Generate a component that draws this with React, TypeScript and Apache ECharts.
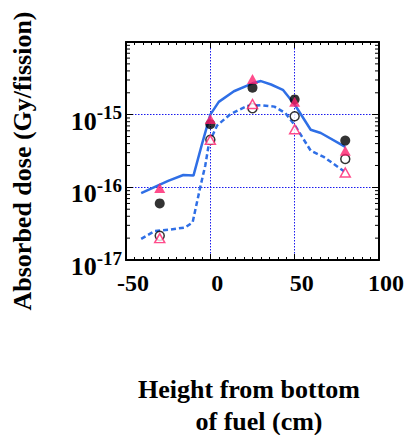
import React, { useEffect, useRef } from "react";
import * as echarts from "echarts";

const solidX = [-41, -25, -16, -10, -5, 0, 5, 14, 25, 30, 36, 43, 50, 59.5, 65.5, 80];
const solidY = [8.3e-17, 1.23e-16, 1.48e-16, 1.45e-16, 3.9e-16, 1.0e-15, 1.5e-15, 2.1e-15, 2.7e-15, 2.9e-15, 2.6e-15, 2.2e-15, 1.38e-15, 6.2e-16, 5.6e-16, 3.6e-16];

const dashX = [-41, -33, -25, -15, -10.5, -6, -3, -1, 1, 4, 12, 22, 30, 38, 44.5, 50, 59.5, 67.5, 80];
const dashY = [1.95e-17, 2.5e-17, 2.6e-17, 2.8e-17, 3.3e-17, 1.0e-16, 2.0e-16, 3.8e-16, 5.0e-16, 7.1e-16, 1.02e-15, 1.32e-15, 1.35e-15, 1.29e-15, 1.05e-15, 7.2e-16, 3.2e-16, 2.6e-16, 1.62e-16];

const markerX = [-30, 0, 25, 50, 80];
const filledTriangle = [9.8e-17, 8.7e-16, 3.1e-15, 1.5e-15, 3.2e-16];
const filledCircle = [6.0e-17, 7.4e-16, 2.35e-15, 1.62e-15, 4.4e-16];
const openCircle = [2.15e-17, 4.5e-16, 1.23e-15, 9.5e-16, 2.45e-16];
const openTriangle = [2.0e-17, 4.5e-16, 1.4e-15, 6.3e-16, 1.6e-16];

const xMin = -50;
const xMax = 100;
const xInterval = 50;
const yMin = 1e-17;
const yMax = 1e-14;
const decades = [-17, -16, -15];
const minorMultipliers = [2, 3, 4, 5, 6, 7, 8, 9];

const yTitle = "Absorbed dose (Gy/fission)";
const xTitle1 = "Height from bottom";
const xTitle2 = "of fuel (cm)";

const FONT = "'Liberation Serif', 'Times New Roman', serif";
const BLUE = "#2f6fe6";
const PINK = "#ff1f6e";
const GRID = "#1a1aee";

const zip = (xs: number[], ys: number[]) => xs.map((x, i) => [x, ys[i]]);

export default function App() {
  const ref = useRef<HTMLDivElement>(null);
  useEffect(() => {
    if (!ref.current) return;
    const chart = echarts.init(ref.current, undefined, { renderer: "svg" });
    const minorTicks: number[][] = [];
    decades.forEach((d) => minorMultipliers.forEach((m) => minorTicks.push([xMin, m * Math.pow(10, d)])));

    const axisLine = { show: true, onZero: false, lineStyle: { color: "#000", width: 2 } };
    const splitLine = { show: true, lineStyle: { color: GRID, width: 1, type: [1.5, 1.5] as any } };

    chart.setOption({
      animation: false,
      grid: { left: 126, right: 33, top: 42, bottom: 175, containLabel: false },
      xAxis: [
        {
          type: "value",
          min: xMin,
          max: xMax,
          interval: xInterval,
          position: "bottom",
          axisLine,
          axisTick: { show: true, inside: true, length: 6, lineStyle: { color: "#000", width: 1 } },
          minorTick: { show: true, splitNumber: 10, length: 3, lineStyle: { color: "#000", width: 1 } },
          splitLine,
          axisLabel: {
            show: true,
            margin: 11,
            color: "#000",
            fontFamily: FONT,
            fontWeight: "bold",
            fontSize: 24,
            padding: [0, 0, 0, 14],
          },
        },
        {
          type: "value",
          min: xMin,
          max: xMax,
          interval: xInterval,
          position: "top",
          axisLine,
          axisTick: { show: true, inside: true, length: 6, lineStyle: { color: "#000", width: 1 } },
          minorTick: { show: true, splitNumber: 10, length: 3, lineStyle: { color: "#000", width: 1 } },
          splitLine: { show: false },
          axisLabel: { show: false },
        },
      ],
      yAxis: [
        {
          type: "log",
          logBase: 10,
          min: yMin,
          max: yMax,
          position: "left",
          axisLine,
          axisTick: { show: true, inside: true, length: 7, lineStyle: { color: "#000", width: 1 } },
          splitLine,
          axisLabel: {
            show: true,
            margin: 4,
            color: "#000",
            padding: [8, 0, 0, 0],
            formatter: (v: number) => {
              const e = Math.round(Math.log10(v));
              if (e === -14) return "";
              return `{b|10}{s|${e}}`;
            },
            rich: {
              b: { fontFamily: FONT, fontWeight: "bold", fontSize: 26, color: "#000", lineHeight: 31, verticalAlign: "bottom" },
              s: { fontFamily: FONT, fontWeight: "bold", fontSize: 19, color: "#000", lineHeight: 19, verticalAlign: "top" },
            },
          },
        },
        {
          type: "log",
          logBase: 10,
          min: yMin,
          max: yMax,
          position: "right",
          axisLine,
          axisTick: { show: true, inside: true, length: 7, lineStyle: { color: "#000", width: 1 } },
          splitLine: { show: false },
          axisLabel: { show: false },
        },
      ],
      graphic: [
        {
          type: "text",
          x: 22,
          y: 161,
          rotation: Math.PI / 2,
          style: { text: yTitle, font: `bold 26px ${FONT}`, fill: "#000", textAlign: "center", textVerticalAlign: "middle" },
        },
        {
          type: "text",
          x: 249,
          y: 389,
          style: { text: xTitle1, font: `bold 26px ${FONT}`, fill: "#000", textAlign: "center", textVerticalAlign: "middle" },
        },
        {
          type: "text",
          x: 259,
          y: 421,
          style: { text: xTitle2, font: `bold 26px ${FONT}`, fill: "#000", textAlign: "center", textVerticalAlign: "middle" },
        },
      ],
      series: [
        {
          type: "custom",
          name: "minorTicks",
          xAxisIndex: 0,
          yAxisIndex: 0,
          silent: true,
          clip: false,
          data: minorTicks,
          renderItem: (_params: any, api: any) => {
            const v = api.value(1);
            const l = api.coord([xMin, v]);
            const r = api.coord([xMax, v]);
            const style = { stroke: "#000", lineWidth: 1 };
            return {
              type: "group",
              children: [
                { type: "line", shape: { x1: l[0], y1: l[1], x2: l[0] + 4, y2: l[1] }, style },
                { type: "line", shape: { x1: r[0] - 4, y1: r[1], x2: r[0], y2: r[1] }, style },
              ],
            };
          },
        },
        {
          type: "line",
          name: "solid",
          data: zip(solidX, solidY),
          showSymbol: false,
          symbol: "none",
          lineStyle: { color: BLUE, width: 2.5 },
          z: 3,
        },
        {
          type: "line",
          name: "dashed",
          data: zip(dashX, dashY),
          showSymbol: false,
          symbol: "none",
          lineStyle: { color: BLUE, width: 2.5, type: [5, 3] as any },
          z: 3,
        },
        {
          type: "scatter",
          name: "filledCircle",
          data: zip(markerX, filledCircle),
          symbol: "circle",
          symbolSize: 10,
          itemStyle: { color: "#000" },
          z: 4,
        },
        {
          type: "scatter",
          name: "openCircle",
          data: zip(markerX, openCircle),
          symbol: "circle",
          symbolSize: 9,
          itemStyle: { color: "#fff", borderColor: "#000", borderWidth: 1.5 },
          z: 4,
        },
        {
          type: "scatter",
          name: "filledTriangle",
          data: zip(markerX, filledTriangle),
          symbol: "triangle",
          symbolSize: [11, 10],
          itemStyle: { color: PINK },
          z: 5,
        },
        {
          type: "scatter",
          name: "openTriangle",
          data: zip(markerX, openTriangle),
          symbol: "triangle",
          symbolSize: [10, 9],
          itemStyle: { color: "#fff", borderColor: PINK, borderWidth: 1.5 },
          z: 5,
        },
      ],
    });
    return () => chart.dispose();
  }, []);
  return <div ref={ref} style={{ position: "absolute", left: 0, top: 0, width: 412, height: 435 }} />;
}
